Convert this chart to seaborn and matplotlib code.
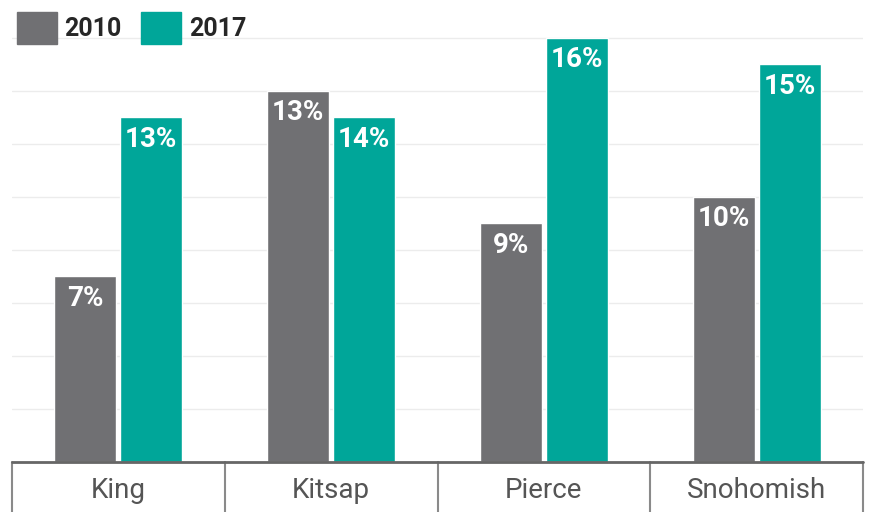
import matplotlib
matplotlib.use("Agg")
import matplotlib.pyplot as plt
import matplotlib.transforms as mtrans
from matplotlib.patches import Patch
import seaborn as sns
import pandas as pd

# data (bar heights as drawn, labels as printed)
counties = ["King", "Kitsap", "Pierce", "Snohomish"]
years = ["2010", "2017"]
share_2010 = [7, 14, 9, 10]
share_2017 = [13, 13, 16, 15]
labels_2010 = ["7%", "13%", "9%", "10%"]
labels_2017 = ["13%", "14%", "16%", "15%"]

gray = "#707073"
teal = "#00a699"

df = pd.DataFrame({
    "County": counties * 2,
    "Year": [years[0]] * 4 + [years[1]] * 4,
    "Share": share_2010 + share_2017,
})

sns.set_style("white")
plt.rcParams["font.family"] = ["Roboto", "DejaVu Sans"]

fig = plt.figure(figsize=(8.69, 5.12), dpi=100)
ax = fig.add_axes([12 / 869, 50 / 512, 851 / 869, 462 / 512])

sns.barplot(data=df, x="County", y="Share", hue="Year", order=counties,
            hue_order=years, palette=[gray, teal], width=0.62, gap=0.06,
            saturation=1, legend=False, ax=ax)

ax.set_xlim(-0.5, 3.5)
ax.set_ylim(0, 17.43)
ax.set_yticks(range(0, 17, 2))
ax.yaxis.grid(True, color="#ececec", linewidth=1)
ax.set_axisbelow(True)
ax.tick_params(axis="y", left=False, labelleft=False)
ax.tick_params(axis="x", length=0, pad=11, labelsize=20, labelcolor="#555555")
ax.set_xlabel("")
ax.set_ylabel("")
for s in ax.spines.values():
    s.set_visible(False)

# value labels inside top of each bar
for cont, labs in zip(ax.containers, [labels_2010, labels_2017]):
    for bar, lab in zip(cont, labs):
        ax.annotate(lab, (bar.get_x() + bar.get_width() / 2, bar.get_height()),
                    xytext=(0, -6), textcoords="offset points",
                    ha="center", va="top", color="white",
                    fontsize=20, fontweight="bold")

# baseline and category cells
ax.axhline(0, color="#666666", linewidth=2, clip_on=False, zorder=5)
trans = mtrans.blended_transform_factory(ax.transData, ax.transAxes)
for xv in [-0.5, 0.5, 1.5, 2.5, 3.5]:
    ax.plot([xv, xv], [0, -50 / 462], color="#8a8a8a", linewidth=1.5,
            transform=trans, clip_on=False)

handles = [Patch(color=gray), Patch(color=teal)]
fig.legend(handles, years, loc="upper left", bbox_to_anchor=(4 / 869, 1 + 1 / 512),
           ncol=2, frameon=False, borderpad=0, handlelength=1.6, handleheight=1.6,
           handletextpad=0.3, columnspacing=0.8,
           prop={"size": 18, "weight": "bold"})

fig.savefig("out.png", dpi=100)
